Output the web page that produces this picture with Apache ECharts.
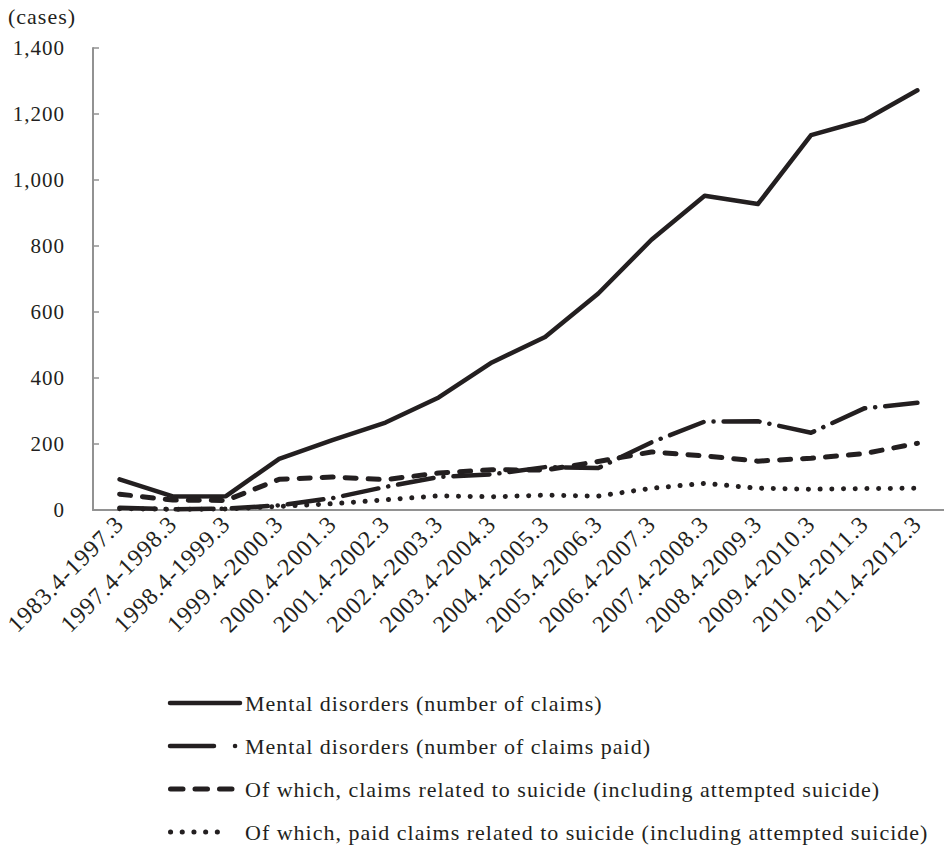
<!DOCTYPE html>
<html>
<head>
<meta charset="utf-8">
<script src="https://cdn.jsdelivr.net/npm/echarts@6/dist/echarts.min.js"></script>
<style>
  html, body { margin: 0; padding: 0; background: #fff; }
  #chart { width: 944px; height: 860px; }
  /* typeset look: slightly tracked serif */
  #chart text { letter-spacing: 1px; }
</style>
</head>
<body>
<div id="chart"></div>
<script>
// Fiscal-year periods (April to March)
const periods = [
  '1983.4-1997.3', '1997.4-1998.3', '1998.4-1999.3', '1999.4-2000.3',
  '2000.4-2001.3', '2001.4-2002.3', '2002.4-2003.3', '2003.4-2004.3',
  '2004.4-2005.3', '2005.4-2006.3', '2006.4-2007.3', '2007.4-2008.3',
  '2008.4-2009.3', '2009.4-2010.3', '2010.4-2011.3', '2011.4-2012.3'
];

// Workers' compensation cases for mental disorders
const claims        = [93, 41, 42, 155, 212, 265, 341, 447, 524, 656, 819, 952, 927, 1136, 1181, 1272];
const claimsPaid    = [7, 2, 4, 14, 36, 70, 100, 108, 130, 127, 205, 268, 269, 234, 308, 325];
const suicideClaims = [48, 30, 29, 93, 100, 92, 112, 122, 121, 147, 176, 164, 148, 157, 171, 202];
const suicidePaid   = [4, 2, 3, 11, 19, 31, 43, 40, 45, 42, 66, 81, 66, 63, 65, 66];

const yTicks = { min: 0, max: 1400, interval: 200 };

const seriesNames = [
  'Mental disorders (number of claims)',
  'Mental disorders (number of claims paid)',
  'Of which, claims related to suicide (including attempted suicide)',
  'Of which, paid claims related to suicide (including attempted suicide)'
];

const ink = '#231f20';
const axisGray = '#929292';
const serif = 'Liberation Serif, serif';

// Stroke styles: solid, long dash with dot, short dash, dotted
const strokes = [
  { width: 4.5, dash: null },
  { width: 4.5, dash: [36, 10, 0.1, 10] },
  { width: 5, dash: [11, 12] },
  { width: 5, dash: [0.1, 11.6] }
];
// Legend samples: start/end x and dash pattern of each sample stroke
const samples = [
  { x1: 170, x2: 240, dash: null },
  { x1: 170, x2: 237, dash: [44, 21, 0.1, 20] },
  { x1: 170.5, x2: 232, dash: [12.5, 12] },
  { x1: 170.5, x2: 229, dash: [0.1, 11.6] }
];
const seriesData = [claims, claimsPaid, suicideClaims, suicidePaid];

const chart = echarts.init(document.getElementById('chart'), null, { renderer: 'svg' });

// Hand-laid legend: a sample stroke followed by the label
const legendTop = 703, legendStep = 43, legendTextX = 245;
const legendGraphics = [];
seriesNames.forEach((name, i) => {
  const y = legendTop + i * legendStep;
  legendGraphics.push({
    type: 'line',
    shape: { x1: samples[i].x1, y1: y, x2: samples[i].x2, y2: y },
    style: {
      stroke: ink,
      lineWidth: strokes[i].width,
      lineDash: samples[i].dash,
      lineCap: 'round'
    },
    silent: true
  });
  legendGraphics.push({
    type: 'text',
    x: legendTextX,
    y: y,
    style: {
      text: name,
      font: '22px ' + serif,
      fill: ink,
      verticalAlign: 'middle'
    },
    silent: true
  });
});

chart.setOption({
  animation: false,
  backgroundColor: '#ffffff',
  textStyle: { fontFamily: serif, color: ink },
  grid: { left: 93, top: 48, width: 854, bottom: 350, containLabel: false },
  graphic: [{
    type: 'text',
    x: 8,
    y: 16,
    style: { text: '(cases)', font: '22px ' + serif, fill: ink, verticalAlign: 'middle' },
    silent: true
  }].concat(legendGraphics),
  xAxis: {
    type: 'category',
    data: periods,
    boundaryGap: true,
    axisLine: { lineStyle: { color: axisGray, width: 2 } },
    axisTick: { inside: true, length: 6, lineStyle: { color: axisGray, width: 1.5 } },
    axisLabel: {
      rotate: 45,
      margin: 10,
      fontFamily: serif,
      fontSize: 24,
      color: ink,
      interval: 0
    },
    splitLine: { show: false }
  },
  yAxis: {
    type: 'value',
    min: yTicks.min,
    max: yTicks.max,
    interval: yTicks.interval,
    axisLine: { show: true, lineStyle: { color: axisGray, width: 2 } },
    axisTick: { show: true, inside: true, length: 6, lineStyle: { color: axisGray, width: 1.5 } },
    axisLabel: {
      margin: 28,
      fontFamily: serif,
      fontSize: 21,
      color: ink,
      formatter: v => v.toLocaleString('en-US')
    },
    splitLine: { show: false }
  },
  series: seriesNames.map((name, i) => ({
    name: name,
    type: 'line',
    data: seriesData[i],
    symbol: 'none',
    lineStyle: {
      color: ink,
      width: strokes[i].width,
      type: strokes[i].dash || 'solid',
      cap: 'round',
      join: 'round'
    },
    emphasis: { disabled: true }
  }))
});
</script>
</body>
</html>
